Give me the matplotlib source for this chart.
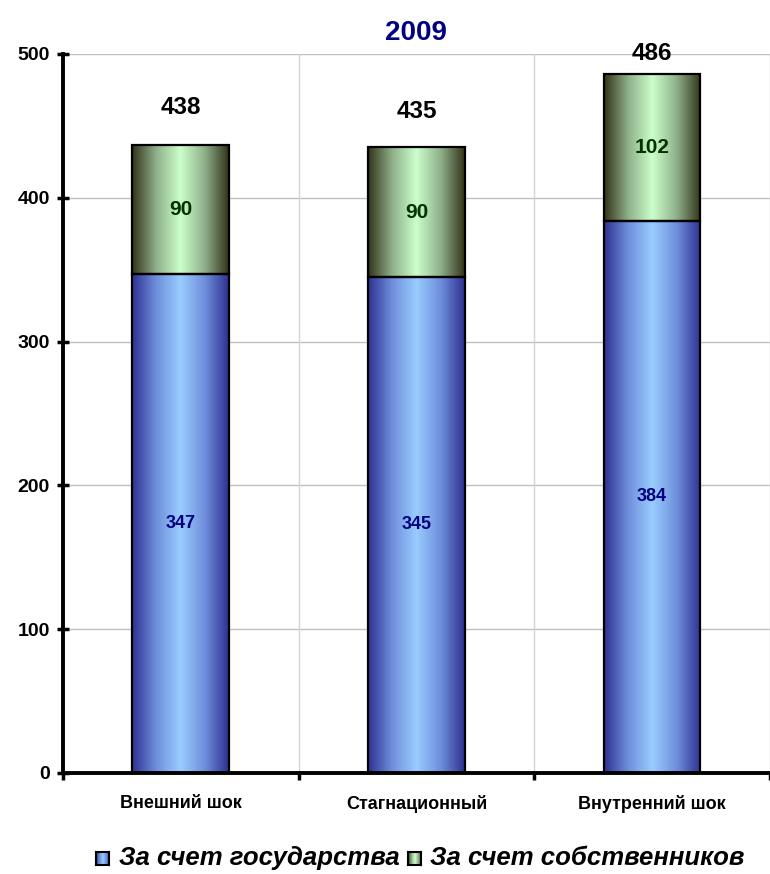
import numpy as np
import matplotlib.pyplot as plt
from matplotlib.patches import Rectangle
from matplotlib.colors import LinearSegmentedColormap

plt.rcParams['font.family'] = ['Liberation Sans', 'DejaVu Sans']

scenarios = ['Внешний шок', 'Стагнационный', 'Внутренний шок']
state = [347, 345, 384]
owners = [90, 90, 102]
totals = [438, 435, 486]

blue_cm = LinearSegmentedColormap.from_list('blue_bar', ['#2e3192', '#6f8fdc', '#99ccff', '#6f8fdc', '#2e3192'])
green_cm = LinearSegmentedColormap.from_list('green_bar', ['#333318', '#8fb08a', '#ccffcc', '#8fb08a', '#333318'])
grad = np.linspace(0, 1, 256).reshape(1, -1)

fig = plt.figure(figsize=(7.7, 8.74), dpi=100)
ax = fig.add_axes([0.0818, 0.1156, 0.918, 0.8227])

x = np.arange(len(scenarios))
width = 0.41


def gradient_bar(ax, xc, bottom, height, cmap):
    rect = Rectangle((xc - width / 2, bottom), width, height,
                     facecolor='none', edgecolor='black', lw=1.6, zorder=3)
    ax.add_patch(rect)
    im = ax.imshow(grad, cmap=cmap, aspect='auto', zorder=2,
                   extent=(xc - width / 2, xc + width / 2, bottom, bottom + height))
    im.set_clip_path(rect)


for i in range(len(scenarios)):
    gradient_bar(ax, x[i], 0, state[i], blue_cm)
    gradient_bar(ax, x[i], state[i], owners[i], green_cm)
    ax.text(x[i], state[i] / 2, str(state[i]), ha='center', va='center',
            color='#000080', fontsize=13, fontweight='bold', zorder=4)
    ax.text(x[i], state[i] + owners[i] / 2, str(owners[i]), ha='center', va='center',
            color='#003300', fontsize=15, fontweight='bold', zorder=4)
    # подпись суммы над столбцом, не выше верхней границы графика
    ax.text(x[i], min(totals[i] + 25, 500), str(totals[i]), ha='center', va='center',
            color='black', fontsize=17.5, fontweight='bold', zorder=4)

ax.set_xlim(-0.5, 2.5)
ax.set_ylim(0, 500)

# сетка: горизонтальные линии и границы категорий
ax.set_yticks(np.arange(0, 501, 100))
for yv in range(100, 501, 100):
    ax.axhline(yv, color='#c0c0c0', lw=1, zorder=1)
for xb in [0.5, 1.5, 2.5]:
    ax.axvline(xb, color='#d4d4d4', lw=1, zorder=1)

ax.set_xticks(x)
ax.set_xticklabels(scenarios, fontsize=13, fontweight='bold')
ax.tick_params(axis='x', length=0, pad=16)
ax.set_xticks([-0.5, 0.5, 1.5, 2.5], minor=True)
ax.tick_params(axis='x', which='minor', length=5, width=2.5, direction='out')
ax.tick_params(axis='y', length=9, width=2.5, direction='inout', labelsize=14, pad=5)
for lbl in ax.get_yticklabels():
    lbl.set_fontweight('bold')

for side in ['top', 'right']:
    ax.spines[side].set_visible(False)
for side in ['left', 'bottom']:
    ax.spines[side].set_linewidth(2.8)
    ax.spines[side].set_zorder(5)

ax.set_title('2009', color='#000080', fontsize=20, fontweight='bold', pad=10)

# легенда с градиентными квадратами
legend_items = [(blue_cm, 'За счет государства'), (green_cm, 'За счет собственников')]
sq_x = [0.125, 0.530]
for (cm, text), xpos in zip(legend_items, sq_x):
    sq = fig.add_axes([xpos, 0.0103, 0.0169, 0.0149])
    sq.imshow(grad, cmap=cm, aspect='auto')
    sq.set_xticks([])
    sq.set_yticks([])
    for s in sq.spines.values():
        s.set_linewidth(1.5)
    fig.text(xpos + 0.029, 0.0183, text, fontsize=18.5, fontweight='bold',
             fontstyle='italic', va='center', ha='left')

fig.savefig('out.png', dpi=100)
